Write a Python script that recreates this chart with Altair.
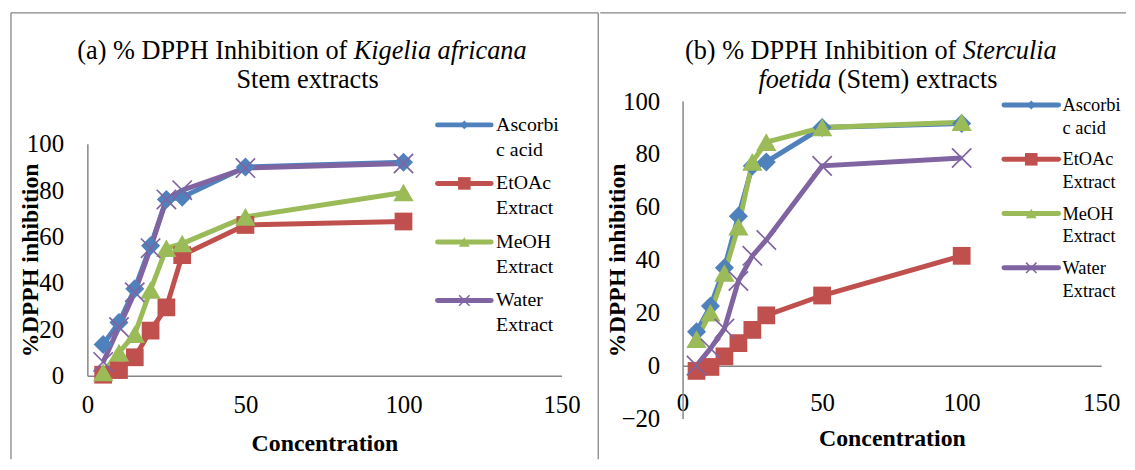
import altair as alt
import pandas as pd

# ---------------- data ----------------
conc = [5, 10, 15, 20, 25, 30, 50, 100]
series = ["Ascorbic acid", "EtOAc Extract", "MeOH Extract", "Water Extract"]
legend_line1 = ["Ascorbi", "EtOAc", "MeOH", "Water"]
legend_line2 = ["c acid", "Extract", "Extract", "Extract"]
colors = ["#4F81BD", "#C0504D", "#9BBB59", "#8064A2"]
xmark = "M-1,-1L1,1M-1,1L1,-1"
shapes = ["diamond", "square", "triangle-up", xmark]

# (a) Kigelia africana stem
a_ascorbic = [13.5, 23, 37.5, 56, 76, 77, 90, 92]
a_etoac = [0.5, 2.5, 8, 19.5, 29.5, 52, 65, 66.5]
a_meoh = [1.5, 10, 18, 37, 55, 57, 68.5, 79]
a_water = [6, 21, 36, 55, 76, 80, 89.5, 91.5]

# (b) Sterculia foetida stem
b_ascorbic = [12.8, 22.5, 37, 56.5, 75.5, 77, 90, 91.5]
b_etoac = [-2, -0.5, 3.5, 8.5, 13.5, 19, 26.5, 41.5]
b_meoh = [10, 20, 35, 52.5, 77, 84.5, 90, 92]
b_water = [0, 6.5, 14, 32, 41.5, 47.5, 75.5, 78.5]

x_ticks = [0, 50, 100, 150]
a_y_ticks = [0, 20, 40, 60, 80, 100]
b_y_ticks = [-20, 0, 20, 40, 60, 80, 100]

x_title = "Concentration"
y_title = "%DPPH inhibition"

FONT = "Liberation Serif"
AXIS_GRAY = "#868686"

MARK_SIZES = [370, 320, 420, 380]
LEGEND_SIZES = [80, 160, 120, 110]


def long_df(vals):
    rows = []
    for s, v in zip(series, vals):
        for c, y in zip(conc, v):
            rows.append({"series": s, "conc": c, "value": y})
    return pd.DataFrame(rows)


color_enc = alt.Color("series:N", scale=alt.Scale(domain=series, range=colors), legend=None)
shape_enc = alt.Shape("series:N", scale=alt.Scale(domain=series, range=shapes), legend=None)


def text_layer(txt, x, y, align="left", size=26.5, style="normal", weight="normal", baseline="alphabetic"):
    return alt.Chart(pd.DataFrame({"t": [txt]})).mark_text(
        align=align, baseline=baseline, font=FONT, fontSize=size,
        fontStyle=style, fontWeight=weight, color="black"
    ).encode(x=alt.value(x), y=alt.value(y), text="t:N")


def rule_layer(x, y, x2=None, y2=None, color=AXIS_GRAY, width=1.3):
    enc = {"x": alt.value(x), "y": alt.value(y)}
    if x2 is not None:
        enc["x2"] = alt.value(x2)
    if y2 is not None:
        enc["y2"] = alt.value(y2)
    return alt.Chart(pd.DataFrame({"k": [0]})).mark_rule(color=color, strokeWidth=width).encode(**enc)


def panel(vals, W, H, ytop, ydom, yticks, xlabpad, xoffset, ytitlex, xtitley, ylabpad,
          titles, legend, borders):
    df = long_df(vals)
    xenc = alt.X("conc:Q", scale=alt.Scale(domain=[0, 150], nice=False, zero=False),
                 axis=alt.Axis(values=x_ticks, title=x_title, grid=False, ticks=False, tickSize=0,
                               domainColor=AXIS_GRAY, domainWidth=1.5,
                               labelFont=FONT, labelFontSize=25, labelColor="black",
                               labelPadding=xlabpad, labelFlush=False, labelOverlap=False,
                               offset=xoffset,
                               titleFont=FONT, titleFontSize=24, titleFontWeight="bold",
                               titleColor="black", titleX=W / 2, titleY=xtitley,
                               titleBaseline="middle", titleAlign="center"))
    yenc = alt.Y("value:Q", scale=alt.Scale(domain=ydom, nice=False, zero=False, range=[H, ytop]),
                 axis=alt.Axis(values=yticks, title=y_title, grid=False, ticks=False, tickSize=0,
                               domainColor=AXIS_GRAY, domainWidth=1.5,
                               labelFont=FONT, labelFontSize=25, labelColor="black",
                               labelPadding=ylabpad, labelFlush=False, labelOverlap=False,
                               titleFont=FONT, titleFontSize=24, titleFontWeight="bold",
                               titleColor="black", titleAngle=-90, titleX=ytitlex,
                               titleY=(H + ytop) / 2,
                               titleBaseline="middle", titleAlign="center"))
    base = alt.Chart(df)
    lines = base.mark_line(strokeWidth=5).encode(
        x=xenc, y=yenc, color=color_enc, order=alt.Order("conc:Q"))

    layers = [rule_layer(*b) for b in borders]
    layers.append(lines)
    for i, s in enumerate(series):
        sub = base.transform_filter(alt.datum.series == s)
        if i < 3:
            layers.append(sub.mark_point(filled=True, size=MARK_SIZES[i], opacity=1).encode(
                x="conc:Q", y="value:Q", color=color_enc, shape=shape_enc))
        else:
            layers.append(sub.mark_point(shape=xmark, filled=False, size=MARK_SIZES[i],
                                         strokeWidth=1.7, opacity=1).encode(
                x="conc:Q", y="value:Q", color=color_enc))
    for t in titles:
        layers.append(text_layer(*t))

    lx0, lx1, tx, ly0, dy, dl, lsize = legend
    for i, s in enumerate(series):
        ldf = pd.DataFrame({"series": [s], "l1": [legend_line1[i]], "l2": [legend_line2[i]]})
        y = ly0 + dy * i
        lb = alt.Chart(ldf)
        layers.append(lb.mark_rule(strokeWidth=5, strokeCap="round").encode(
            x=alt.value(lx0), x2=alt.value(lx1), y=alt.value(y), color=color_enc))
        if i < 3:
            layers.append(lb.mark_point(filled=True, size=LEGEND_SIZES[i], opacity=1).encode(
                x=alt.value((lx0 + lx1) / 2), y=alt.value(y), color=color_enc, shape=shape_enc))
        else:
            layers.append(lb.mark_point(shape=xmark, filled=False, size=LEGEND_SIZES[i],
                                        strokeWidth=1.5, opacity=1).encode(
                x=alt.value((lx0 + lx1) / 2), y=alt.value(y), color=color_enc))
        layers.append(lb.mark_text(align="left", baseline="middle", font=FONT, fontSize=lsize, color="black").encode(
            x=alt.value(tx), y=alt.value(y), text="l1:N"))
        layers.append(lb.mark_text(align="left", baseline="middle", font=FONT, fontSize=lsize, color="black").encode(
            x=alt.value(tx), y=alt.value(y + dl), text="l2:N"))

    return alt.layer(*layers).properties(width=W, height=H)


# both panels share the same origin (page y = 100); the left plot starts 43 px lower
left = panel(
    [a_ascorbic, a_etoac, a_meoh, a_water], 478, 277, 43, [0, 100], a_y_ticks,
    xlabpad=17, xoffset=0, ytitlex=-57, xtitley=68, ylabpad=24,
    titles=[
        ("(a) % DPPH Inhibition of", 262, -42, "right"),
        ("Kigelia africana", 268.5, -42, "left", 26.5, "italic"),
        ("Stem extracts", 222, -13, "center"),
    ],
    legend=(353, 407, 412, 24, 59, 25, 20),
    borders=[(-77, -89, 515, None), (-77, -89, None, 361), (515, -89, None, 361)],
)

right = panel(
    [b_ascorbic, b_etoac, b_meoh, b_water], 422, 320, 0, [-20, 100], b_y_ticks,
    xlabpad=25, xoffset=-53.3, ytitlex=-66, xtitley=74, ylabpad=23,
    titles=[
        ("(b) % DPPH Inhibition of", 276, -42, "right"),
        ("Sterculia", 282.5, -42, "left", 26.5, "italic"),
        ("foetida", 150, -13, "right", 26.5, "italic"),
        ("(Stem) extracts", 156.5, -13, "left"),
    ],
    legend=(324, 379, 383, 4, 54.7, 23, 18.5),
    borders=[(-83, -89, 447, None)],
)

chart = alt.hconcat(left, right, spacing=0).properties(
    padding={"left": 2, "top": 2, "right": 0, "bottom": 0}
).configure_view(stroke=None).configure_concat(spacing=0)

chart.save("out.html", embed_options={"renderer": "svg", "actions": False})
